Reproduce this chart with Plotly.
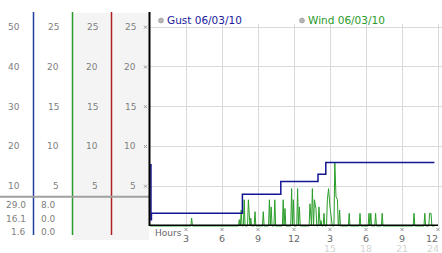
import plotly.graph_objects as go

W, H = 442, 253

# ---------------- data ----------------
col1_ticks = ["50", "40", "30", "20", "10"]
col2_ticks = ["25", "20", "15", "10", "5"]
col3_ticks = ["25", "20", "15", "10", "5"]
col4_ticks = ["25", "20", "15", "10", "5"]
grid_values = [25, 20, 15, 10, 5]

col1_stats = ["29.0", "16.1", "1.6"]
col2_stats = ["8.0", "0.0", "0.0"]

hour_ticks = [3, 6, 9, 12, 15, 18, 21, 24]
hour_labels = ["3", "6", "9", "12", "3", "6", "9", "12"]
hour_labels2 = ["", "", "", "", "15", "18", "21", "24"]

gust_hours = [0.0, 0.08, 0.12, 7.7, 10.9, 14.0, 14.65, 23.7]
gust_values = [7.7, 0.8, 1.6, 4.0, 5.6, 6.5, 8.0, 8.0]

wind_spike_hours = [3.47, 7.44, 7.6, 7.85, 8.2, 8.4, 8.75, 9.44, 9.95, 10.1, 10.4,
                    11.1, 11.25, 11.8, 11.95, 12.3, 12.45, 13.33, 13.53, 13.7, 13.83,
                    14.08, 14.25, 14.5, 14.78, 14.88, 15.0, 15.12, 15.4, 15.5, 15.62,
                    15.8, 16.6, 17.5, 18.25, 18.4, 18.8, 19.35, 22.0, 22.9, 23.3, 23.42]
wind_spike_values = [1.0, 0.8, 2.0, 3.3, 3.3, 1.0, 1.8, 1.8, 3.3, 2.4, 3.3,
                     3.3, 2.2, 4.7, 3.3, 4.7, 2.4, 2.8, 4.7, 3.3, 2.2,
                     2.4, 0.7, 1.6, 3.3, 4.7, 2.4, 0.7, 8.0, 3.7, 3.3,
                     2.0, 1.6, 1.6, 1.6, 1.6, 1.6, 1.6, 1.6, 1.6, 1.6, 1.6]
wind_start, wind_end = 0.0, 23.7

# build wind series: zero between observed gusts of wind
HALF = 0.07
wx, wy = [wind_start], [0.0]
prev = None
for h, v in zip(wind_spike_hours, wind_spike_values):
    if prev is None or h - prev > 2 * HALF:
        if prev is not None:
            wx.append(prev + HALF); wy.append(0.0)
        wx.append(h - HALF); wy.append(0.0)
    wx.append(h); wy.append(v)
    prev = h
wx += [prev + HALF, wind_end]
wy += [0.0, 0.0]


def px(x):
    return x / W


def py(y):
    return 1 - y / H


FONT = "DejaVu Sans"
LBL = "#808080"
MARK = "#9a9a9a"

fig = go.Figure()
fig.add_trace(go.Scatter(x=wx, y=wy, mode="lines", line=dict(color="#2a9d2a", width=1),
                         hoverinfo="skip", showlegend=False))
fig.add_trace(go.Scatter(x=gust_hours, y=gust_values, mode="lines", line_shape="hv",
                         line=dict(color="#141496", width=1.5), hoverinfo="skip",
                         showlegend=False))

shapes = [
    dict(type="rect", xref="paper", yref="paper", x0=px(72.5), x1=px(149), y0=py(240), y1=py(13),
         fillcolor="#f4f4f4", line=dict(width=0), layer="below"),
    dict(type="line", xref="paper", yref="paper", x0=px(33.5), x1=px(33.5), y0=py(235), y1=py(12),
         line=dict(color="#1f3f9f", width=1.5)),
    dict(type="line", xref="paper", yref="paper", x0=px(72.5), x1=px(72.5), y0=py(235), y1=py(12),
         line=dict(color="#2a9a2a", width=1.5)),
    dict(type="line", xref="paper", yref="paper", x0=px(111.5), x1=px(111.5), y0=py(235), y1=py(12),
         line=dict(color="#b02020", width=1.5)),
    dict(type="line", xref="paper", yref="paper", x0=0, x1=px(149), y0=py(196.7), y1=py(196.7),
         line=dict(color="#a0a0a0", width=2)),
    dict(type="line", xref="paper", yref="paper", x0=px(149.5), x1=px(149.5), y0=py(226), y1=py(12),
         line=dict(color="black", width=2)),
    dict(type="line", xref="paper", yref="paper", x0=px(149), x1=px(438), y0=py(225.3), y1=py(225.3),
         line=dict(color="black", width=1.5), layer="above"),
    dict(type="circle", xref="paper", yref="paper", x0=px(158.5), x1=px(163.5), y0=py(23), y1=py(18),
         fillcolor="#b4b4b4", line=dict(color="#8c8c8c", width=0.5)),
    dict(type="circle", xref="paper", yref="paper", x0=px(299.5), x1=px(304.5), y0=py(23), y1=py(18),
         fillcolor="#b4b4b4", line=dict(color="#8c8c8c", width=0.5)),
]


def tick_mark(xref, x, xoff, ycen):
    """small grey cross used as tick marker; x in axis units (xref='x') or paper"""
    out = []
    for d in (1, -1):
        out.append(dict(type="line", xref=xref, yref="paper", x0=x, x1=x, xsizemode="pixel",
                        xanchor=x, y0=py(ycen - 1.6 * d), y1=py(ycen + 1.6 * d),
                        line=dict(color=MARK, width=1), layer="above",
                        **{}))
    return out


# tick markers drawn as tiny crosses (pixel-sized shapes anchored at tick positions)
for v in grid_values:
    for d in (1, -1):
        shapes.append(dict(type="line", xref="paper", yref="y", ysizemode="pixel", yanchor=v,
                           x0=px(144), x1=px(147), y0=-1.5 * d, y1=1.5 * d,
                           line=dict(color=MARK, width=1), layer="above"))
for h in hour_ticks:
    for d in (1, -1):
        shapes.append(dict(type="line", xref="x", yref="paper", xsizemode="pixel", xanchor=h,
                           x0=-1.5, x1=1.5, y0=py(229.5 - 1.5 * d), y1=py(229.5 + 1.5 * d),
                           line=dict(color=MARK, width=1), layer="above"))

ann = []
for cols, xr in ((col1_ticks, 21.5), (col2_ticks, 60.5), (col3_ticks, 99.5), (col4_ticks, 137.5)):
    for t, v in zip(cols, grid_values):
        ann.append(dict(xref="paper", yref="y", x=px(xr), y=v, text=t, showarrow=False,
                        xanchor="right", yanchor="middle", font=dict(family=FONT, size=9, color=LBL)))

for stats, xr in ((col1_stats, 27.5), (col2_stats, 57.5)):
    for t, yy in zip(stats, (205, 218.5, 232)):
        ann.append(dict(xref="paper", yref="paper", x=px(xr), y=py(yy), text=t, showarrow=False,
                        xanchor="right", yanchor="middle", font=dict(family=FONT, size=9, color=LBL)))

for h, t, t2 in zip(hour_ticks, hour_labels, hour_labels2):
    last = h == hour_ticks[-1]
    if last:
        ann.append(dict(xref="paper", yref="paper", x=px(440), y=py(238), text=t, showarrow=False,
                        xanchor="right", yanchor="middle", font=dict(family=FONT, size=9.5, color="#666")))
    else:
        ann.append(dict(xref="x", yref="paper", x=h, y=py(238), text=t, showarrow=False,
                        xanchor="center", yanchor="middle", font=dict(family=FONT, size=9.5, color="#666")))
    if t2:
        if last:
            ann.append(dict(xref="paper", yref="paper", x=px(441), y=py(248), text=t2, showarrow=False,
                            xanchor="right", yanchor="middle",
                            font=dict(family=FONT, size=9.5, color="#d4d4d4")))
        else:
            ann.append(dict(xref="x", yref="paper", x=h, y=py(248), text=t2, showarrow=False,
                            xanchor="center", yanchor="middle",
                            font=dict(family=FONT, size=9.5, color="#d4d4d4")))

ann.append(dict(xref="paper", yref="paper", x=px(153), y=py(232.5), text="Hours", showarrow=False,
                xanchor="left", yanchor="middle", font=dict(family=FONT, size=9, color="#666")))
ann.append(dict(xref="paper", yref="paper", x=px(164.5), y=py(20.5), text="Gust 06/03/10", showarrow=False,
                xanchor="left", yanchor="middle", font=dict(family=FONT, size=10.5, color="#1a1a9a")))
ann.append(dict(xref="paper", yref="paper", x=px(306), y=py(20.5), text="Wind 06/03/10", showarrow=False,
                xanchor="left", yanchor="middle", font=dict(family=FONT, size=10.5, color="#2a9a2a")))

fig.update_layout(
    width=W, height=H, margin=dict(l=0, r=0, t=0, b=0),
    paper_bgcolor="white", plot_bgcolor="white",
    showlegend=False, hovermode=False,
    shapes=shapes, annotations=ann,
    xaxis=dict(domain=[150 / W, 1], range=[0, 24.333], tickvals=hour_ticks, showticklabels=False,
               showgrid=True, gridcolor="#dadada", gridwidth=1, zeroline=False, showline=False,
               ticks=""),
    yaxis=dict(domain=[py(227), py(24)], range=[-0.126, 25.4], tickvals=grid_values,
               showticklabels=False, showgrid=True, gridcolor="#dadada", gridwidth=1,
               zeroline=False, showline=False, ticks=""),
)

fig.write_html("out.html")
